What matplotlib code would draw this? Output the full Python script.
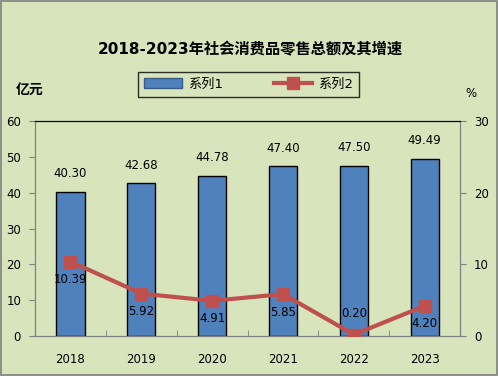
import numpy as np
import matplotlib.pyplot as plt
from matplotlib.patches import Rectangle

plt.rcParams['font.family'] = ['DejaVu Sans', 'Noto Sans CJK SC']

years = ['2018', '2019', '2020', '2021', '2022', '2023']
sales = [40.30, 42.68, 44.78, 47.40, 47.50, 49.49]
growth = [10.39, 5.92, 4.91, 5.85, 0.20, 4.20]

bg = '#D8E4BC'
bar_color = '#4F81BD'
line_color = '#C0504D'

fig = plt.figure(figsize=(4.98, 3.76), dpi=100, facecolor=bg)
fig.patches.append(Rectangle((0.002, 0.003), 0.996, 0.994, transform=fig.transFigure,
                             fill=False, edgecolor='#808080', linewidth=1.2))

ax = fig.add_axes([0.0703, 0.1064, 0.8537, 0.5716])
ax.set_facecolor(bg)
x = np.arange(len(years))
ax.bar(x, sales, width=0.4, color=bar_color, edgecolor='black', linewidth=1, zorder=2)
ax.set_xlim(-0.5, len(years) - 0.5)
ax.set_ylim(0, 60)
ax.set_yticks(range(0, 61, 10))
ax.set_xticks(x)
ax.set_xticklabels(years, fontsize=8.5)
ax.set_xticks(np.arange(-0.5, len(years)), minor=True)
ax.tick_params(axis='x', which='major', length=0, pad=12)
ax.tick_params(axis='x', which='minor', length=4, direction='in', color='#808080')
ax.tick_params(axis='y', labelsize=8.5, length=4, direction='out', color='#808080', pad=6)
for s in ['left', 'bottom', 'right']:
    ax.spines[s].set_color('#808080')
ax.spines['top'].set_color('black')

for xi, v in zip(x, sales):
    ax.text(xi, v + 3.2, f'{v:.2f}', ha='center', va='bottom', fontsize=8.5)

ax2 = ax.twinx()
ax2.plot(x, growth, color=line_color, linewidth=3, marker='s', markersize=8, zorder=3)
ax2.set_ylim(0, 30)
ax2.set_yticks(range(0, 31, 10))
ax2.tick_params(axis='y', labelsize=8.5, length=4, direction='out', color='#808080', pad=6)
for s in ['left', 'bottom', 'right']:
    ax2.spines[s].set_color('#808080')
ax2.spines['top'].set_color('black')

for xi, v in zip(x, growth):
    if v < 1:
        ax2.text(xi, v + 2.0, f'{v:.2f}', ha='center', va='bottom', fontsize=8.5)
    else:
        ax2.text(xi, v - 1.6, f'{v:.2f}', ha='center', va='top', fontsize=8.5)

fig.text(0.503, 0.867, '2018-2023年社会消费品零售总额及其增速', ha='center', va='center',
         fontsize=11, fontweight='bold')
fig.text(0.06, 0.76, '亿元', ha='center', va='center', fontsize=10, fontweight='bold')
fig.text(0.946, 0.752, '%', ha='center', va='center', fontsize=8.5)

handles = [Rectangle((0, 0), 1, 1, facecolor=bar_color, edgecolor='#385D8A'),
           plt.Line2D([], [], color=line_color, linewidth=3, marker='s', markersize=8)]
leg = fig.legend(handles, ['系列1', '系列2'], loc='center', bbox_to_anchor=(0.499, 0.776),
                 ncol=2, fontsize=9.5, frameon=True, fancybox=False, edgecolor='black',
                 facecolor=bg, columnspacing=3.8, handlelength=2.9, handletextpad=0.5,
                 borderpad=0.45, borderaxespad=0)
leg.get_frame().set_linewidth(1)

fig.savefig('out.png', dpi=100, facecolor=bg)
